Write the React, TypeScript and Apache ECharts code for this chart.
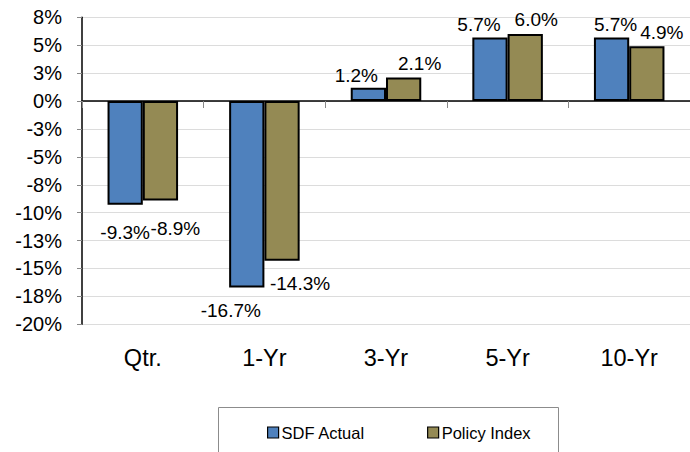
import React, { useEffect, useRef } from "react";
import * as echarts from "echarts";

const categories = ["Qtr.", "1-Yr", "3-Yr", "5-Yr", "10-Yr"];
const sdfActual = [-9.3, -16.7, 1.2, 5.7, 5.7];
const policyIndex = [-8.9, -14.3, 2.1, 6.0, 4.9];
const seriesNames = ["SDF Actual", "Policy Index"];
const yTickLabels = ["-20%", "-18%", "-15%", "-13%", "-10%", "-8%", "-5%", "-3%", "0%", "3%", "5%", "8%"];

const Y_MIN = -20;
const Y_MAX = 7.5;
const Y_STEP = 2.5;

// label nudges (style only), [dx, dy]
const sdfLabelShift = [[0, 13], [-16, 9], [-12, 0], [-11, 0], [4, 0]];
const polLabelShift = [[15, 14], [18, 8], [16, -2], [11, -2], [15, -1]];

const FONT = '"Liberation Sans", Arial, sans-serif';

function buildData(values: number[], shifts: number[][]) {
  return values.map((v, i) => ({
    value: v,
    label: {
      position: v < 0 ? "bottom" : "top",
      distance: v < 0 ? 5 : 3,
      offset: shifts[i],
    },
  }));
}

export default function App() {
  const ref = useRef<HTMLDivElement>(null);
  useEffect(() => {
    if (!ref.current) return;
    const chart = echarts.init(ref.current, null, { renderer: "svg" });
    const labelCommon = {
      show: true,
      formatter: (p: any) => p.value.toFixed(1) + "%",
      color: "#000",
      fontSize: 19,
      fontFamily: FONT,
    };
    chart.setOption({
      animation: false,
      textStyle: { fontFamily: FONT },
      grid: { left: 82, right: 0, top: 17.3, bottom: 127.7, containLabel: false },
      xAxis: [
        {
          type: "category",
          data: categories,
          position: "bottom",
          axisLine: { show: false, onZero: false },
          axisTick: { show: false },
          axisLabel: { color: "#000", fontSize: 23.5, margin: 22, fontFamily: FONT },
          splitLine: { show: false },
        },
        {
          type: "category",
          data: categories,
          position: "top",
          axisLine: { show: true, onZero: true, lineStyle: { color: "#000", width: 1.5 } },
          axisTick: { show: true, inside: true, length: 7, lineStyle: { color: "#888" } },
          axisLabel: { show: false },
          splitLine: { show: false },
        },
      ],
      yAxis: {
        type: "value",
        min: Y_MIN,
        max: Y_MAX,
        interval: Y_STEP,
        axisLine: { show: true, lineStyle: { color: "#000", width: 1.5 } },
        axisTick: { show: true, length: 5, lineStyle: { color: "#888" } },
        axisLabel: {
          color: "#000",
          fontSize: 20,
          margin: 20,
          fontFamily: FONT,
          formatter: (v: number) => {
            const idx = Math.round((v - Y_MIN) / Y_STEP);
            return yTickLabels[idx] ?? "";
          },
        },
        splitLine: { show: true, lineStyle: { color: "#dcdcdc", width: 1 } },
      },
      legend: {
        left: 267,
        top: 424,
        padding: 0,
        itemWidth: 11,
        itemHeight: 11,
        itemGap: 62,
        icon: "rect",
        data: seriesNames,
        textStyle: { color: "#000", fontSize: 16.5, fontFamily: FONT, padding: [0, 0, 0, -2] },
        itemStyle: { borderColor: "#000", borderWidth: 1.2 },
      },
      graphic: [
        {
          type: "rect",
          shape: { x: 218.5, y: 407.5, width: 340, height: 60 },
          style: { fill: "none", stroke: "#8c8c8c", lineWidth: 1 },
          silent: true,
        },
      ],
      series: [
        {
          name: seriesNames[0],
          type: "bar",
          data: buildData(sdfActual, sdfLabelShift),
          barGap: "0%",
          barCategoryGap: "42%",
          itemStyle: { color: "#4F81BD", borderColor: "#000", borderWidth: 2 },
          label: labelCommon,
        },
        {
          name: seriesNames[1],
          type: "bar",
          data: buildData(policyIndex, polLabelShift),
          barGap: "0%",
          barCategoryGap: "42%",
          itemStyle: { color: "#948A54", borderColor: "#000", borderWidth: 2 },
          label: labelCommon,
        },
      ],
    });
    return () => chart.dispose();
  }, []);
  return (
    <div
      ref={ref}
      style={{ position: "fixed", left: 0, top: 0, width: 690, height: 452, background: "#fff" }}
    />
  );
}
